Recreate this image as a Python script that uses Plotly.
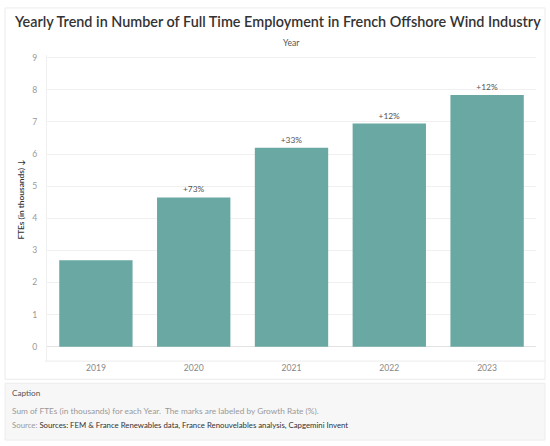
import plotly.graph_objects as go

# data
years = ["2019", "2020", "2021", "2022", "2023"]
ftes = [2.69, 4.65, 6.2, 6.95, 7.84]
growth_labels = ["", "+73%", "+33%", "+12%", "+12%"]
y_ticks = [0, 1, 2, 3, 4, 5, 6, 7, 8, 9]

W, H = 550, 446
FONT = "Lato"


def px_x(x):
    return x / W


def px_y(y):
    return 1 - y / H


fig = go.Figure()
fig.add_trace(go.Bar(
    x=years,
    y=ftes,
    text=growth_labels,
    textposition="outside",
    textfont=dict(size=8.4, color="#555555", family=FONT),
    marker=dict(color="#6aa9a3", line=dict(width=0)),
    cliponaxis=False,
    hoverinfo="x+y",
))

fig.update_layout(
    width=W,
    height=H,
    margin=dict(l=0, r=0, t=0, b=0),
    paper_bgcolor="white",
    plot_bgcolor="white",
    bargap=0.25,
    showlegend=False,
    font=dict(family=FONT, color="#555555"),
    xaxis=dict(
        domain=[px_x(47), px_x(536)],
        showgrid=False,
        tickfont=dict(size=8.6, color="#888888"),
        ticks="",
        showline=False,
        anchor="y",
    ),
    yaxis=dict(
        domain=[px_y(360.7), px_y(52.8)],
        range=[-0.45, 9.1],
        tickvals=y_ticks,
        tickfont=dict(size=8.6, color="#999999"),
        gridcolor="#f0f0f0",
        zeroline=True,
        zerolinecolor="#e2e2e2",
        zerolinewidth=1,
        showline=True,
        linecolor="#f0f0f0",
        ticks="",
        ticklabelstandoff=7,
    ),
)

shapes = [
    # white worksheet panel
    dict(type="rect", xref="paper", yref="paper",
         x0=px_x(5), x1=px_x(545), y0=px_y(379), y1=px_y(6),
         line=dict(color="#ececec", width=1), fillcolor="rgba(0,0,0,0)", layer="below"),
    # caption box
    dict(type="rect", xref="paper", yref="paper",
         x0=px_x(5), x1=px_x(545), y0=px_y(440), y1=px_y(383),
         line=dict(color="#ececec", width=1), fillcolor="#f7f7f7", layer="below"),
    # header separator line of the x axis
    dict(type="line", xref="paper", yref="paper",
         x0=px_x(45), x1=px_x(545), y0=px_y(360.7), y1=px_y(360.7),
         line=dict(color="#ececec", width=1)),
]
fig.update_layout(shapes=shapes)

annotations = [
    dict(text="Yearly Trend in Number of Full Time Employment in French Offshore Wind Industry",
         x=px_x(12), y=px_y(20), xanchor="left", yanchor="middle",
         font=dict(size=14.4, color="#333333", family=FONT, weight=600)),
    dict(text="Year", x=(px_x(47) + px_x(536)) / 2, y=px_y(41),
         xanchor="center", yanchor="middle",
         font=dict(size=8.6, color="#555555", family=FONT)),
    dict(text="FTEs (in thousands) ↓", x=px_x(21), y=px_y(198.5), textangle=-90,
         xanchor="center", yanchor="middle",
         font=dict(size=8.4, color="#333333", family=FONT, weight=600)),
    dict(text="Caption", x=px_x(10), y=px_y(393), xanchor="left", yanchor="middle",
         font=dict(size=8.2, color="#555555", family=FONT)),
    dict(text="Sum of FTEs (in thousands) for each Year.  The marks are labeled by Growth Rate (%).",
         x=px_x(10), y=px_y(411), xanchor="left", yanchor="middle",
         font=dict(size=8.3, color="#999999", family=FONT)),
    dict(text="Source: <span style='color:#333333'>Sources: FEM &amp; France Renewables data, "
              "France Renouvelables analysis, Capgemini Invent</span>",
         x=px_x(10), y=px_y(425), xanchor="left", yanchor="middle",
         font=dict(size=7.8, color="#999999", family=FONT)),
]
for a in annotations:
    fig.add_annotation(xref="paper", yref="paper", showarrow=False, **a)

# the page body has a default 8px margin; drop it so the figure sits at 0,0
fig.write_html("out.html", config={"displayModeBar": False},
               post_script="document.body.style.margin='0';")
